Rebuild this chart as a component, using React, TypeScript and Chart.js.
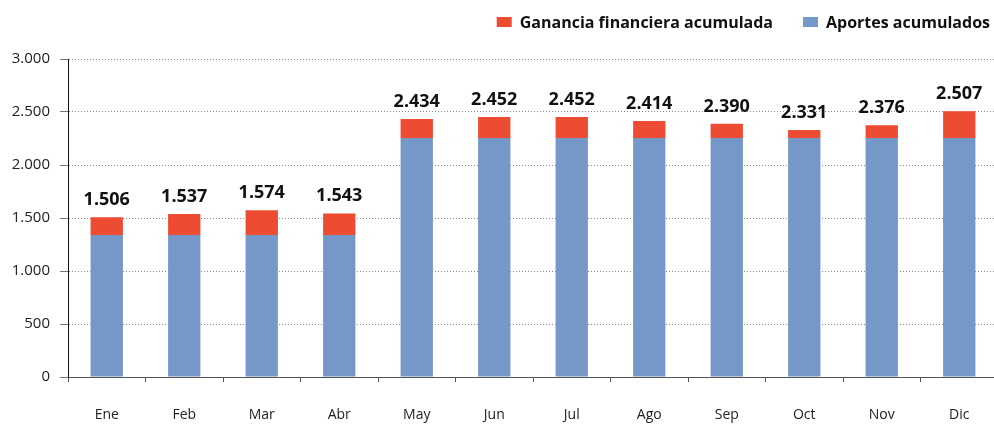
import React, { useEffect, useRef } from "react";
import { Chart, registerables } from "chart.js";

Chart.register(...registerables);

const categories = ["Ene", "Feb", "Mar", "Abr", "May", "Jun", "Jul", "Ago", "Sep", "Oct", "Nov", "Dic"];
const aportes = [1340, 1340, 1340, 1340, 2255, 2255, 2255, 2255, 2255, 2255, 2255, 2255];
const ganancia = [166, 197, 234, 203, 179, 197, 197, 159, 135, 76, 121, 252];
const yTicks = [0, 500, 1000, 1500, 2000, 2500, 3000];

const BLUE = "#7598C8";
const RED = "#EE4B33";
const FONT = "'Open Sans', 'DejaVu Sans', sans-serif";

const fmt = (v: number) => String(Math.round(v)).replace(/\B(?=(\d{3})+(?!\d))/g, ".");

const totalsPlugin = {
  id: "totals",
  afterDatasetsDraw(chart: any) {
    const ctx = chart.ctx;
    const meta = chart.getDatasetMeta(1);
    ctx.save();
    ctx.font = `bold 18px ${FONT}`;
    ctx.fillStyle = "#111";
    ctx.textAlign = "center";
    ctx.textBaseline = "alphabetic";
    meta.data.forEach((bar: any, i: number) => {
      const total = aportes[i] + ganancia[i];
      ctx.fillText(fmt(total), bar.x, bar.y - 12);
    });
    ctx.restore();
  },
};

const legendPlugin = {
  id: "customLegend",
  afterDraw(chart: any) {
    const ctx = chart.ctx;
    ctx.save();
    ctx.font = `bold 16px ${FONT}`;
    ctx.textBaseline = "middle";
    ctx.textAlign = "left";
    const items = [
      { label: chart.data.datasets[1].label, color: chart.data.datasets[1].backgroundColor },
      { label: chart.data.datasets[0].label, color: chart.data.datasets[0].backgroundColor },
    ];
    let right = 990;
    const cy = 22;
    for (let k = items.length - 1; k >= 0; k--) {
      const it = items[k];
      const w = ctx.measureText(it.label).width;
      const tx = right - w;
      const bx = tx - 8 - 15;
      ctx.fillStyle = it.color;
      ctx.fillRect(bx, cy - 5, 15, 10);
      ctx.fillStyle = "#111";
      ctx.fillText(it.label, tx, cy + 1);
      right = bx - 30;
    }
    ctx.restore();
  },
};

export default function App() {
  const ref = useRef<HTMLCanvasElement>(null);
  useEffect(() => {
    document.body.style.margin = "0";
    document.body.style.overflow = "hidden";
    const chart = new Chart(ref.current!, {
      type: "bar",
      data: {
        labels: categories,
        datasets: [
          { label: "Aportes acumulados", data: aportes, backgroundColor: BLUE, stack: "s" },
          { label: "Ganancia financiera acumulada", data: ganancia, backgroundColor: RED, stack: "s" },
        ],
      },
      options: {
        responsive: false,
        animation: false,
        maintainAspectRatio: false,
        layout: { padding: { top: 59, left: 0, right: 0, bottom: 0 } },
        datasets: { bar: { categoryPercentage: 1, barPercentage: 0.417 } },
        plugins: { legend: { display: false }, tooltip: { enabled: false } },
        scales: {
          x: {
            stacked: true,
            offset: true,
            grid: { display: true, drawOnChartArea: false, drawTicks: true, tickLength: 5, tickColor: "#555", offset: true },
            border: { display: true, color: "#555", width: 1 },
            ticks: { color: "#222", font: { family: FONT, size: 14 }, padding: 25, maxRotation: 0 },
            afterFit(scale: any) { scale.height = 47; },
          },
          y: {
            stacked: true,
            min: 0,
            max: 3000,
            afterBuildTicks(scale: any) { scale.ticks = yTicks.map((v) => ({ value: v })); },
            grid: { color: "#888", lineWidth: 1, drawTicks: true, tickLength: 8, tickColor: "#777", tickBorderDash: [] },
            border: { display: true, color: "#111", width: 1, dash: [1, 2] },
            ticks: { color: "#222", font: { family: FONT, size: 15 }, padding: 10, callback: (v: any) => fmt(Number(v)) },
            afterFit(scale: any) { scale.width = 68; },
          },
        },
      },
      plugins: [totalsPlugin, legendPlugin],
    });
    return () => chart.destroy();
  }, []);
  return (
    <div style={{ position: "absolute", left: 0, top: 0, width: 998, height: 424 }}>
      <canvas ref={ref} width={998} height={424} style={{ display: "block" }} />
    </div>
  );
}
